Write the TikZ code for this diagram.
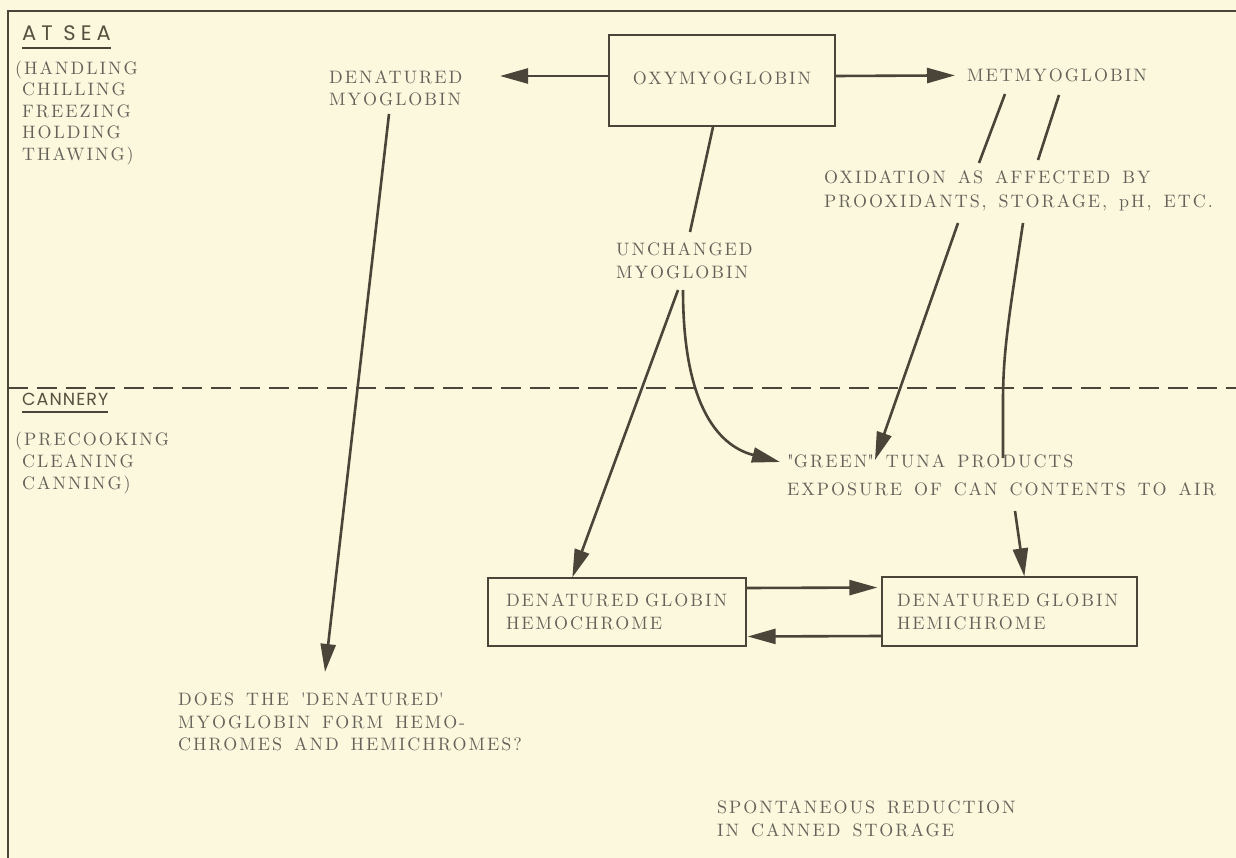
\documentclass[tikz,border=0pt]{standalone}
\usepackage{fontspec}
\usetikzlibrary{arrows.meta}
\newfontfamily\lblf{lmroman10-regular}[Extension=.otf, LetterSpace=11, WordSpace=1.5]
\newfontfamily\hdf{Poppins}[LetterSpace=24]
\newfontfamily\hdbf{Poppins}[LetterSpace=6]
\definecolor{bg}{HTML}{FBF8DE}
\definecolor{txt}{HTML}{66625A}
\definecolor{ink}{HTML}{4A4538}
\definecolor{hdc}{HTML}{55513F}
\tikzset{
  lbl/.style={font=\lblf\fontsize{18}{#1}\selectfont, text=txt, inner sep=0pt, align=left, anchor=base west},
  lbl/.default=22,
  hd/.style={font=\hdf\fontsize{21}{24}\selectfont, text=hdc, inner sep=0pt, anchor=base west},
  hdb/.style={font=\hdbf\fontsize{17.5}{20}\selectfont, text=hdc, inner sep=0pt, anchor=base west},
  uline/.style={draw=ink, line width=1.8pt},
  box/.style={draw=ink, line width=1.3pt, font=\lblf\fontsize{18}{23}\selectfont, text=txt},
  arr/.style={draw=ink, line width=2.6pt, -{Triangle[length=28pt,width=15pt]}},
  ln/.style={draw=ink, line width=2.6pt},
  frame/.style={draw=ink, line width=2pt},
  dashline/.style={draw=ink, line width=1.6pt, dash pattern=on 20pt off 9pt}
}
\begin{document}
\begin{tikzpicture}[x=1pt,y=-1pt]
\fill[bg] (0,0) rectangle (1236,858);
\useasboundingbox (0,0) rectangle (1236,858);
% frame and divider
\draw[frame] (1236,11) -- (8,11) -- (8,858);
\draw[dashline] (8,388) -- (1236,388);

% section headings (multi-line labels are placed by the baseline of their last line)
\node[hd] (atsea) at (22,41) {AT SEA};
\draw[uline] ([yshift=-7pt]atsea.base west) -- ([yshift=-7pt]atsea.base east);
\node[lbl=21.5] (seanote) at (15,160.5) {(HANDLING\\\phantom{(}CHILLING\\\phantom{(}FREEZING\\\phantom{(}HOLDING\\\phantom{(}THAWING)};
\node[hdb] (cannery) at (22,405) {CANNERY};
\draw[uline] ([yshift=-7pt]cannery.base west) -- ([yshift=-7pt]cannery.base east);
\node[lbl=22] (cannote) at (15,489.5) {(PRECOOKING\\\phantom{(}CLEANING\\\phantom{(}CANNING)};

% main nodes
\node[box, minimum width=226pt, minimum height=91pt, inner sep=0pt] (oxy) at (722,80.5) {\raisebox{4pt}{OXYMYOGLOBIN}};
\node[lbl=22] (den) at (329,105.5) {DENATURED\\MYOGLOBIN};
\node[lbl] (met) at (967,81.5) {METMYOGLOBIN};
\node[lbl=24] (oxid) at (824,207.5) {OXIDATION AS AFFECTED BY\\PROOXIDANTS, STORAGE, pH, ETC.};
\node[lbl=23] (unch) at (616,278.5) {UNCHANGED\\MYOGLOBIN};
\node[lbl=28] (green) at (787,495.5) {\textquotedbl GREEN\textquotedbl{} TUNA PRODUCTS\\EXPOSURE OF CAN CONTENTS TO AIR};
\node[box, minimum width=258pt, minimum height=68pt, text width=222pt, inner xsep=0pt, inner ysep=0pt, align=left] (hemo) at (617,612) {\mbox{DENATURED GLOBIN}\\HEMOCHROME};
\node[box, minimum width=255pt, minimum height=69pt, text width=225pt, inner xsep=0pt, inner ysep=0pt, align=left] (hemi) at (1009.5,611.5) {\mbox{DENATURED GLOBIN}\\HEMICHROME};
\node[lbl=22.5] (does) at (178,750.5) {DOES THE \textquotesingle DENATURED\textquotesingle\\MYOGLOBIN FORM HEMO-\\CHROMES AND HEMICHROMES?};
\node[lbl=23] (spont) at (717,836.5) {SPONTANEOUS REDUCTION\\IN CANNED STORAGE};

% connector end points
\coordinate (denTip) at (500,76);
\coordinate (oxyBot) at (713,127);
\coordinate (unchTop) at (690,232);
\coordinate (unchA) at (678,290);
\coordinate (unchB) at (683,290);
\coordinate (hemoTop) at ([xshift=85pt]hemo.north west);
\coordinate (greenTip) at (780,462);
\coordinate (metA1) at (1005,94);
\coordinate (metA2) at (979,163);
\coordinate (metB1) at (1059,95);
\coordinate (metB2) at (1038,160);
\coordinate (oxA) at (958,223);
\coordinate (oxATip) at (875,460);
\coordinate (oxB) at (1023,223);
\coordinate (oxBEnd) at (1003,458);
\coordinate (expo) at (1015,511);
\coordinate (hemiTop) at ([xshift=143pt]hemi.north west);
\coordinate (denA) at (389,114);
\coordinate (doesTip) at (325,672);

% connectors
\draw[arr] ([yshift=4.5pt]oxy.west) -- (denTip);
\draw[arr, shorten >=12pt] ([yshift=4.5pt]oxy.east) -- (met.west);
\draw[ln] (oxyBot) -- (unchTop);
\draw[ln] (metA1) -- (metA2);
\draw[ln] (metB1) -- (metB2);
\draw[arr] (unchA) -- (hemoTop);
\draw[arr] (unchB) .. controls (683,400) and (715,445) .. (greenTip);
\draw[arr] (oxA) -- (oxATip);
\draw[ln] (oxB) .. controls (1010,310) and (1003,350) .. (1003,400) -- (oxBEnd);
\draw[arr] (expo) -- (hemiTop);
\draw[arr, shorten >=4pt] ([yshift=24pt]hemo.east) -- ([yshift=24pt]hemi.west);
\draw[arr, shorten >=1pt] ([yshift=-24.5pt]hemi.west) -- ([yshift=-24.5pt]hemo.east);
\draw[arr] (denA) -- (doesTip);
\end{tikzpicture}
\end{document}
